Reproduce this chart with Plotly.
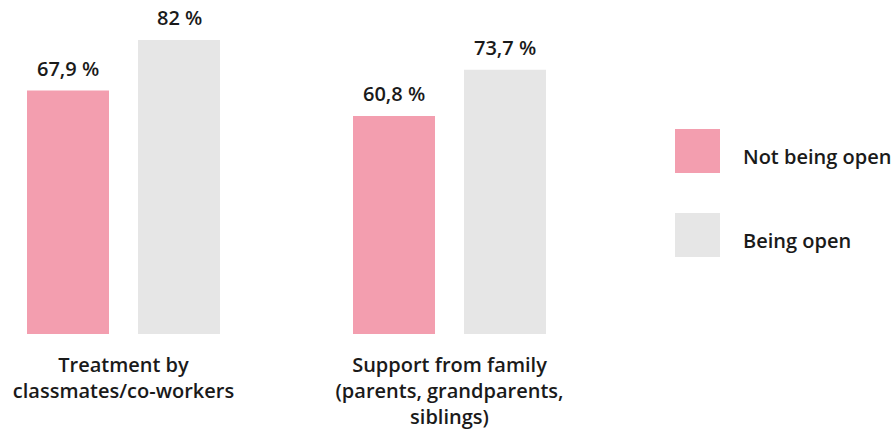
import plotly.graph_objects as go

categories = ["Treatment by<br>classmates/co-workers",
              "Support from family<br>(parents, grandparents,<br>siblings)"]
not_open = [67.9, 60.8]
being_open = [82.0, 73.7]
series_names = ["Not being open", "Being open"]
colors = ["#f39eaf", "#e6e6e6"]

FONT = "Open Sans"
TEXT = "#1a1a1a"
SIZE = 20

def pct(v):
    s = f"{v:.1f}".rstrip("0").rstrip(".")
    return s.replace(".", ",") + " %"

fig = go.Figure()
for name, vals, col in zip(series_names, [not_open, being_open], colors):
    fig.add_trace(go.Bar(x=categories, y=vals, name=name, marker_color=col,
                         marker_line_width=0, showlegend=False))

# value labels above the bars
for i, cat in enumerate(categories):
    for vals, shift in ((not_open, -55.5), (being_open, 55.5)):
        fig.add_annotation(x=cat, y=vals[i], xref="x", yref="y", text=pct(vals[i]),
                           showarrow=False, yanchor="bottom", xshift=shift, yshift=7,
                           font=dict(family=FONT, size=SIZE, color=TEXT, weight=600))

# legend drawn as swatches + labels
legend_y = [0.6513, 0.4573]
for name, col, yc in zip(series_names, colors, legend_y):
    fig.add_shape(type="rect", xref="paper", yref="paper",
                  x0=675 / 895, x1=720 / 895, y0=yc - 22 / 433, y1=yc + 22 / 433,
                  fillcolor=col, line_width=0)
    fig.add_annotation(x=741 / 895, y=yc - 6 / 433, xref="paper", yref="paper", text=name,
                       showarrow=False, xanchor="left", yanchor="middle",
                       font=dict(family=FONT, size=SIZE, color=TEXT, weight=600))

fig.update_layout(
    width=895, height=433,
    margin=dict(l=0, r=0, t=0, b=0),
    paper_bgcolor="white", plot_bgcolor="white",
    barmode="group", bargap=0.319, bargroupgap=0.2613,
    xaxis=dict(domain=[0, 660 / 895], range=[-123.5 / 326, (660 - 123.5) / 326],
               showgrid=False, zeroline=False, showline=False, ticks="",
               tickfont=dict(family=FONT, size=SIZE, color=TEXT, weight=600),
               ticklabelstandoff=17),
    yaxis=dict(domain=[99 / 433, (433 - 11.35) / 433], range=[0, 90], visible=False),
)

fig.write_html("out.html")
